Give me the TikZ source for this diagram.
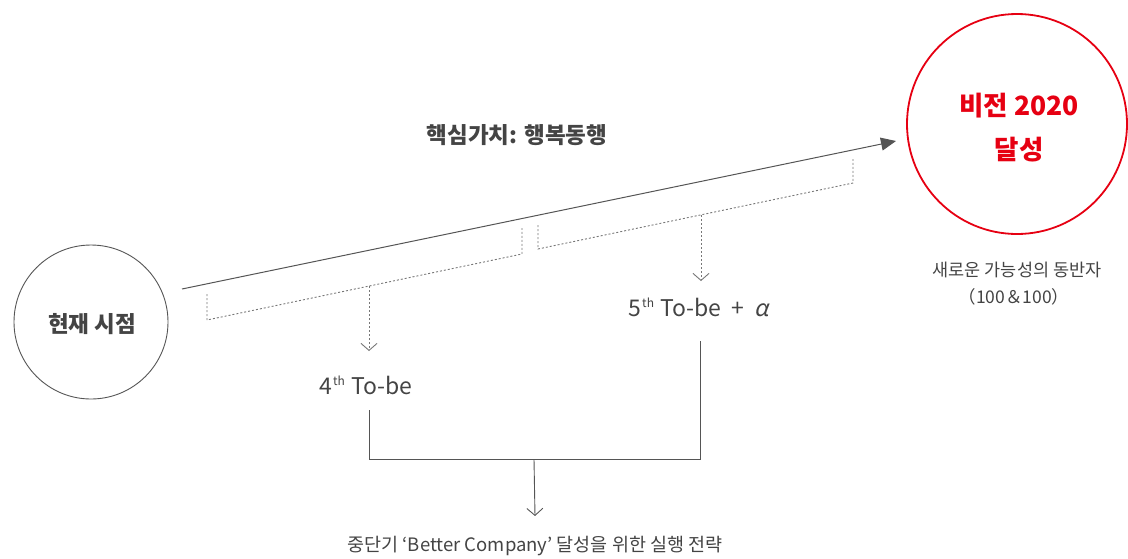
\documentclass[tikz,border=0pt]{standalone}
\usepackage{fontspec}
\setmainfont{Noto Sans CJK KR}
\usetikzlibrary{arrows.meta,calc}
\definecolor{txt}{HTML}{444444}
\definecolor{ln}{HTML}{555555}
\definecolor{vred}{HTML}{E60012}
\newcommand{\supth}{\kern0.5pt\raisebox{0.4em}{\fontsize{12}{13}\selectfont th}\kern1pt}
\tikzset{
  lbl/.style={text=txt, inner sep=0pt, anchor=center},
  dotline/.style={draw=ln!80, line width=0.9pt, dash pattern=on 2pt off 2pt},
  solidline/.style={draw=ln, line width=1pt},
  openarrow/.style={-{Straight Barb[length=7pt,width=16pt,line width=0.9pt]}},
}
\begin{document}
\begin{tikzpicture}[x=1pt,y=-1pt]
\useasboundingbox (0,0) rectangle (1128,558);
% circles
\node[circle, draw=ln, line width=0.9pt, minimum size=154pt, inner sep=0pt] (now) at (91,322) {};
\node[lbl, font=\fontsize{22.5}{26}\selectfont\bfseries] (nowt) at (92,324) {현재 시점};
\node[circle, draw=vred, line width=1.8pt, minimum size=220pt, inner sep=0pt] (vision) at (1017,124) {};
\node[lbl, text=vred, font=\fontsize{26.5}{30}\selectfont\bfseries] (v1) at (1019,106) {비전 2020};
\node[lbl, text=vred, font=\fontsize{26.5}{30}\selectfont\bfseries] (v2) at (1019,150) {달성};
\node[lbl, font=\fontsize{17.5}{20}\selectfont] (p1) at (1017,270) {새로운 가능성의 동반자};
\node[lbl, font=\fontsize{17.5}{20}\selectfont] (p2) at (1014,297) {（100＆100）};
% main arrow
\coordinate (a0) at (182,289);
\coordinate (a1) at (896,141);
\draw[solidline, -{Triangle[length=15pt,width=13pt]}] (a0) -- (a1);
\node[lbl, font=\fontsize{22.5}{26}\selectfont\bfseries] (core) at (517,135) {핵심가치: 행복동행};
% bracket 1
\coordinate (b1a) at (207,294);
\coordinate (b1b) at (207,320);
\coordinate (b1c) at (522,254);
\coordinate (b1d) at (522,228);
\draw[dotline] (b1a) -- (b1b) -- (b1c) -- (b1d);
\coordinate (b1m) at (369,286);
% bracket 2
\coordinate (b2a) at (538,225);
\coordinate (b2b) at (538,249);
\coordinate (b2c) at (853,183);
\coordinate (b2d) at (853,159);
\draw[dotline] (b2a) -- (b2b) -- (b2c) -- (b2d);
\coordinate (b2m) at (701,215);
% labels
\node[lbl, font=\fontsize{23}{26}\selectfont] (tb4) at (366,385) {4\supth\ To-be};
\node[lbl, font=\fontsize{23}{26}\selectfont] (tb5) at (699,307) {5\supth\ To-be\ \ +\ \ {\addfontfeature{FakeSlant=0.2}α}};
\coordinate (d4) at (369,351);
\coordinate (d5) at (701,281);
\draw[dotline, openarrow] (b1m) -- (d4);
\draw[dotline, openarrow] (b2m) -- (d5);
% merge
\coordinate (m1) at (369,410);
\coordinate (m2) at (369,459);
\coordinate (m3) at (700,459);
\coordinate (m4) at (700,341);
\coordinate (m5) at (534,459);
\draw[solidline, line width=0.9pt] (m1) -- (m2) -- (m3) -- (m4);
\node[lbl, font=\fontsize{18.5}{21}\selectfont] (goal) at (535,546) {중단기 ‘Better Company’ 달성을 위한 실행 전략};
\draw[solidline, line width=0.9pt, openarrow] (m5) -- ($(goal.north)+(0,-20)$);
\end{tikzpicture}
\end{document}
